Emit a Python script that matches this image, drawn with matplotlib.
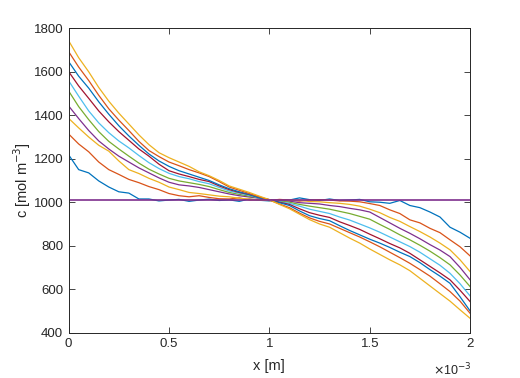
import numpy as np
import matplotlib
matplotlib.use("Agg")
import matplotlib.pyplot as plt

# positions along x, in mm (plotted in m)
x_mm = [0.00, 0.05, 0.10, 0.15, 0.20, 0.25, 0.30, 0.35, 0.40, 0.45,
        0.50, 0.55, 0.60, 0.65, 0.70, 0.75, 0.80, 0.85, 0.90, 0.95,
        1.00, 1.05, 1.10, 1.15, 1.20, 1.25, 1.30, 1.35, 1.40, 1.45,
        1.50, 1.55, 1.60, 1.65, 1.70, 1.75, 1.80, 1.85, 1.90, 1.95, 2.00]

c0 = [1218, 1150, 1135, 1098, 1070, 1048, 1042, 1015, 1015, 1006, 1010, 1013, 1004, 1010, 1014, 1008, 1011, 1004, 1015, 1009,
      1006, 1012, 1010, 1020, 1012, 1008, 1015, 1008, 1010, 1013, 1002, 1000, 995, 1008, 985, 975, 955, 932, 885, 862, 834]
c1 = [1314, 1268, 1232, 1185, 1150, 1128, 1105, 1090, 1072, 1058, 1040, 1030, 1025, 1030, 1022, 1016, 1015, 1020, 1010, 1012,
      1008, 1013, 1010, 1005, 1010, 1012, 1010, 1006, 1005, 1002, 994, 985, 965, 948, 919, 905, 880, 860, 827, 795, 753]
c2 = [1386, 1342, 1300, 1262, 1235, 1190, 1150, 1132, 1110, 1092, 1070, 1058, 1045, 1040, 1034, 1028, 1025, 1018, 1015, 1010,
      1008, 1003, 1008, 1010, 1003, 1002, 998, 995, 990, 982, 968, 952, 930, 912, 888, 865, 840, 812, 781, 735, 681]
c3 = [1443, 1385, 1330, 1282, 1245, 1212, 1185, 1158, 1135, 1112, 1092, 1080, 1075, 1068, 1058, 1048, 1038, 1030, 1024, 1018,
      1012, 1008, 1005, 998, 995, 992, 985, 980, 972, 965, 955, 930, 905, 880, 857, 832, 805, 780, 750, 700, 643]
c4 = [1512, 1440, 1380, 1325, 1280, 1245, 1212, 1180, 1152, 1130, 1110, 1098, 1090, 1082, 1072, 1058, 1045, 1036, 1028, 1020,
      1010, 1005, 1000, 990, 982, 975, 968, 958, 948, 935, 922, 898, 875, 850, 827, 802, 775, 745, 712, 665, 612]
c5 = [1559, 1488, 1420, 1365, 1320, 1282, 1250, 1215, 1182, 1155, 1133, 1118, 1108, 1095, 1085, 1068, 1052, 1042, 1032, 1020,
      1010, 1002, 995, 982, 968, 958, 948, 932, 918, 900, 882, 862, 840, 818, 796, 770, 740, 710, 673, 625, 569]
c6 = [1601, 1535, 1478, 1420, 1370, 1325, 1285, 1245, 1212, 1175, 1145, 1130, 1118, 1105, 1095, 1075, 1058, 1045, 1035, 1022,
      1012, 1000, 990, 970, 952, 940, 930, 910, 893, 875, 853, 832, 810, 790, 765, 735, 705, 675, 643, 595, 543]
c7 = [1647, 1580, 1525, 1462, 1405, 1352, 1305, 1262, 1222, 1190, 1165, 1145, 1130, 1115, 1100, 1080, 1062, 1048, 1036, 1020,
      1010, 998, 985, 960, 938, 925, 915, 892, 870, 850, 830, 812, 792, 770, 750, 722, 690, 660, 627, 565, 500]
c8 = [1693, 1622, 1560, 1492, 1430, 1378, 1330, 1280, 1238, 1210, 1185, 1168, 1150, 1135, 1118, 1095, 1070, 1055, 1040, 1025,
      1010, 992, 975, 950, 928, 912, 900, 880, 860, 840, 818, 795, 770, 745, 719, 690, 660, 625, 589, 545, 489]
c9 = [1743, 1665, 1600, 1528, 1465, 1410, 1360, 1310, 1265, 1228, 1205, 1185, 1165, 1140, 1122, 1100, 1075, 1060, 1045, 1028,
      1012, 990, 970, 945, 920, 900, 885, 860, 835, 812, 785, 760, 735, 712, 685, 650, 615, 580, 545, 505, 466]
c_init = 1010  # flat initial profile

profiles = [c0, c1, c2, c3, c4, c5, c6, c7, c8, c9]

# MATLAB default colour order
colors = ['#0072BD', '#D95319', '#EDB120', '#7E2F8E', '#77AC30', '#4DBEEE', '#A2142F']

x_ticks_mm = [0, 0.5, 1, 1.5, 2]
x_tick_labels = ['0', '0.5', '1', '1.5', '2']
y_ticks = [400, 600, 800, 1000, 1200, 1400, 1600, 1800]


def plot_profiles():
    plt.rcParams['font.family'] = ['Liberation Sans', 'DejaVu Sans']
    fig = plt.figure(figsize=(5.2, 3.78), dpi=100)
    ax = fig.add_axes([0.132, 0.12, 0.772, 0.805])

    x = np.array(x_mm) * 1e-3
    for i, c in enumerate(profiles):
        ax.plot(x, c, color=colors[i % 7], lw=0.9)
    ax.plot(x, [c_init] * len(x), color=colors[len(profiles) % 7], lw=1.2)

    ax.set_xlim(0, 2e-3)
    ax.set_ylim(400, 1800)
    ax.set_xticks(np.array(x_ticks_mm) * 1e-3)
    ax.set_xticklabels(x_tick_labels)
    ax.set_yticks(y_ticks)

    ax.tick_params(direction='in', length=4, width=0.6, top=True, right=True,
                   labelsize=9.5, colors='#262626', pad=4)
    for s in ax.spines.values():
        s.set_color('#262626')
        s.set_linewidth(0.7)

    ax.set_xlabel('x [m]', fontsize=10.5, color='#262626', labelpad=6)
    ax.set_ylabel('c [mol m$^{-3}$]', fontsize=10.5, color='#262626', labelpad=0)
    ax.text(1.005, -0.095, r'$\times$10$^{-3}$', transform=ax.transAxes,
            ha='right', va='top', fontsize=9, color='#262626')

    fig.savefig('out.png', dpi=100)


def main():
    plot_profiles()


if __name__ == "__main__":
    main()
